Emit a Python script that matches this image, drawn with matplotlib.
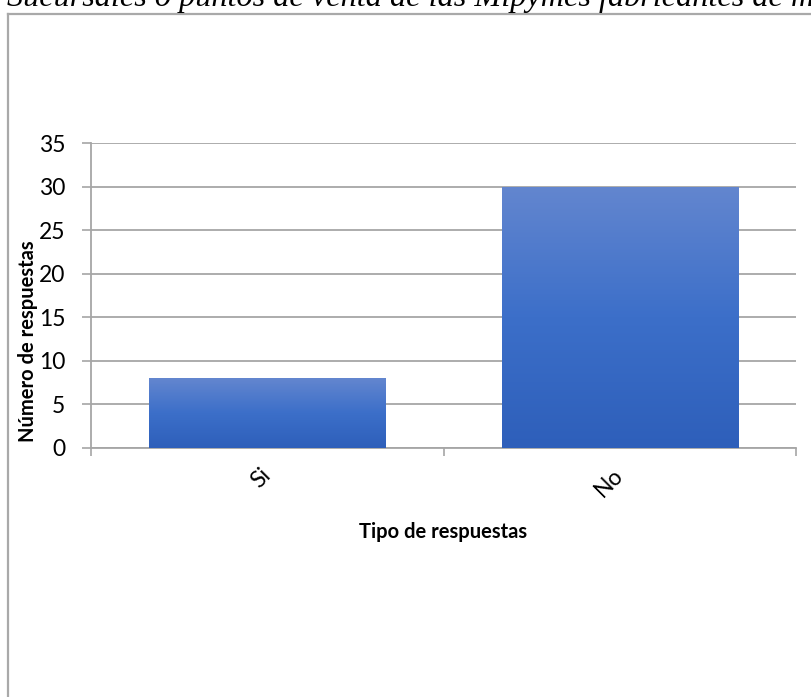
import numpy as np
import matplotlib
matplotlib.use("Agg")
import matplotlib.pyplot as plt
from matplotlib.colors import LinearSegmentedColormap
from matplotlib.lines import Line2D

# Survey answers: does the company have branches / points of sale?
categories = ["Si", "No"]
responses = [8, 30]
y_ticks = [0, 5, 10, 15, 20, 25, 30, 35]
title_text = "Sucursales o puntos de venta de las Mipymes fabricantes de m"

W, H = 811, 697
fig = plt.figure(figsize=(W / 100, H / 100), dpi=100)
fig.patch.set_facecolor("white")

def px_x(x):
    return x / W

def px_y(y):
    return 1 - y / H

# Document caption partially cut at the top edge
fig.text(px_x(7), px_y(6), title_text, fontsize=23.2, family="Liberation Serif",
         style="italic", ha="left", va="baseline", color="black")

# Chart frame
frame_col = "#A9A9A9"
fig.add_artist(Line2D([px_x(8), px_x(8)], [px_y(14), 0], transform=fig.transFigure,
                      color=frame_col, lw=1.6))
fig.add_artist(Line2D([px_x(8), 1], [px_y(14), px_y(14)], transform=fig.transFigure,
                      color=frame_col, lw=1.6))

left, right, top, bottom = 91, 796, 143, 448
ax = fig.add_axes([px_x(left), px_y(bottom), (right - left) / W, (bottom - top) / H])

font = "Lato"
grid_col = "#A6A6A6"

x = np.arange(len(categories)) + 0.5
bars = ax.bar(x, responses, width=0.67, color="none", edgecolor="none", zorder=3)

cmap = LinearSegmentedColormap.from_list("bar_grad", ["#2E5FBA", "#3C6FC9", "#6386CF"])
grad = np.linspace(0, 1, 256).reshape(-1, 1)
for b in bars:
    x0, y0 = b.get_x(), b.get_y()
    x1, y1 = x0 + b.get_width(), y0 + b.get_height()
    im = ax.imshow(grad, cmap=cmap, origin="lower", aspect="auto",
                   extent=[x0, x1, y0, y1], zorder=3)
    im.set_clip_path(b)

ax.set_xlim(0, len(categories))
ax.set_ylim(0, 35)
ax.set_yticks(y_ticks)
ax.set_yticklabels([str(v) for v in y_ticks], fontsize=16.5, family=font)
ax.yaxis.grid(True, color=grid_col, lw=1.3, zorder=0)
ax.set_axisbelow(True)

ax.set_xticks(np.arange(len(categories) + 1))
ax.set_xticklabels([])
ax.set_xticks(x, minor=True)
ax.set_xticklabels(categories, minor=True, rotation=45, ha="right", va="center",
                   rotation_mode="anchor", fontsize=16.5, family=font)
ax.tick_params(axis="x", which="minor", length=0, pad=17)
ax.tick_params(axis="x", which="major", length=6, width=1.2, color=grid_col, direction="out")
ax.tick_params(axis="y", length=6.5, width=1.2, color=grid_col, direction="out", pad=12)

for s in ["top", "right"]:
    ax.spines[s].set_visible(False)
for s in ["left", "bottom"]:
    ax.spines[s].set_color(grid_col)
    ax.spines[s].set_linewidth(1.3)

ax.set_ylabel("Número de respuestas", fontsize=14.5, family=font, fontweight="bold")
ax.yaxis.set_label_coords(-0.089, 0.351)
ax.set_xlabel("Tipo de respuestas", fontsize=14.5, family=font, fontweight="bold")
ax.xaxis.set_label_coords(0.5, -0.275)
ax.xaxis.label.set_va("center")
ax.yaxis.label.set_va("center")

fig.savefig("out.png", dpi=100, facecolor="white")
